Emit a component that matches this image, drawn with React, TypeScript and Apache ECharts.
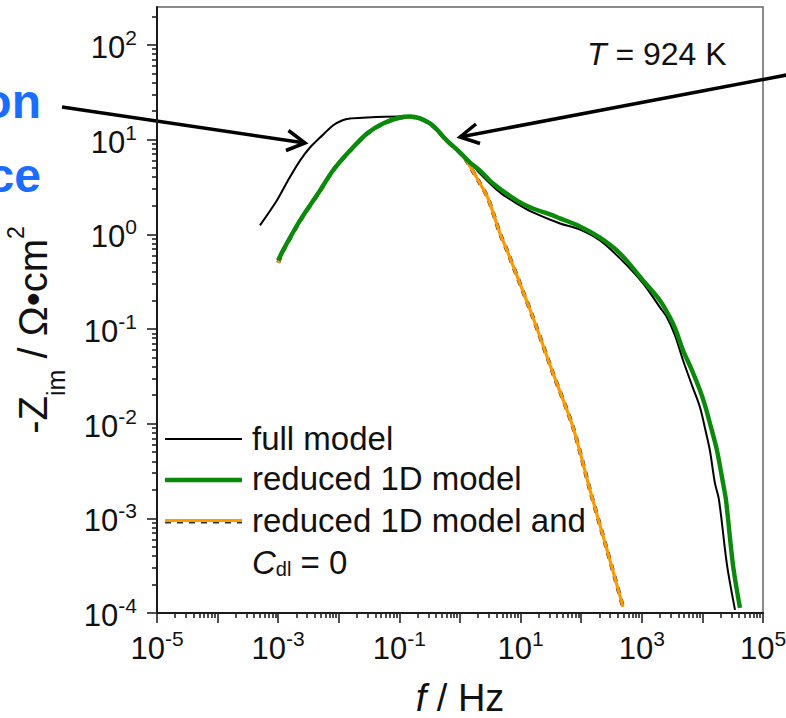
import React, { useEffect, useRef } from 'react';
import * as echarts from 'echarts';

const FONT = "'Liberation Sans', Arial, Helvetica, sans-serif";

// full model (f in Hz, -Zim in Ohm cm^2)
const fullModelFreq = [5.0e-4, 9.5e-4, 1.45e-3, 2.29e-3, 3.35e-3, 4.9e-3, 8.0e-3, 0.0113, 0.0153, 0.0292, 0.0578, 0.102, 0.15, 0.32, 0.609, 1.0, 1.46, 2.14, 4.57, 8.7, 16.0, 44.7, 95.5, 204, 437, 1047, 1995, 2606, 3530, 4790, 6730, 9120, 11040, 13300, 16100, 18800, 25500, 34500];
const fullModelZim = [1.24, 2.27, 3.7, 6.0, 8.24, 10.5, 14.1, 15.9, 16.7, 17.1, 17.4, 17.5, 17.5, 15.1, 10.0, 7.45, 5.86, 4.38, 2.76, 2.11, 1.7, 1.3, 1.12, 0.86, 0.556, 0.303, 0.169, 0.132, 0.0857, 0.0467, 0.0254, 0.0149, 8.93e-3, 5.2e-3, 2.35e-3, 1.56e-3, 3.2e-4, 1.08e-4];

// reduced 1D model
const reduced1DFreq = [0.001, 0.0012, 0.00229, 0.0049, 0.008, 0.0153, 0.0292, 0.0536, 0.102, 0.15, 0.32, 0.609, 1.0, 1.46, 2.14, 3.51, 8.7, 16.0, 30.5, 44.7, 95.5, 204, 437, 1047, 1995, 2920, 3660, 4790, 6730, 9120, 11040, 13300, 17400, 21900, 24500, 32000, 41700];
const reduced1DZim = [0.53, 0.675, 1.4, 2.9, 4.71, 7.65, 11.6, 14.8, 17.1, 17.5, 14.8, 9.76, 7.29, 5.72, 4.71, 3.44, 2.27, 1.87, 1.62, 1.47, 1.21, 0.92, 0.627, 0.326, 0.2, 0.132, 0.0966, 0.0594, 0.0366, 0.0225, 0.0156, 0.0101, 5.2e-3, 2.35e-3, 1.56e-3, 3.2e-4, 1.13e-4];

// reduced 1D model and Cdl = 0
const reducedCdl0Freq = [0.001, 0.0012, 0.00229, 0.0049, 0.008, 0.0153, 0.0292, 0.0536, 0.102, 0.15, 0.32, 0.609, 1.0, 1.21, 2.14, 2.9, 4.57, 5.97, 16.0, 34.3, 73.3, 140, 267, 490];
const reducedCdl0Zim = [0.5, 0.66, 1.38, 2.88, 4.7, 7.6, 11.5, 14.7, 17.0, 17.4, 14.7, 9.7, 7.25, 6.31, 3.44, 2.39, 1.02, 0.675, 0.132, 0.034, 9.16e-3, 1.98e-3, 4.63e-4, 1.16e-4];

// axes (decade exponents)
const xTickExponents = [-5, -4, -3, -2, -1, 0, 1, 2, 3, 4, 5];
const xLabelExponents = [-5, -3, -1, 1, 3, 5];
const yTickExponents = [-4, -3, -2, -1, 0, 1, 2];
const yLabelExponents = [-4, -3, -2, -1, 0, 1, 2];
const minorMultipliers = [2, 3, 4, 5, 6, 7, 8, 9];
const xRangeExp = [-5, 5];
const yRangeExp = [-4, 2.4];

function minorTicks(range: number[]): number[] {
  const out: number[] = [];
  for (let n = Math.floor(range[0]); n < range[1]; n++) {
    for (const k of minorMultipliers) {
      const v = n + Math.log10(k);
      if (v > range[0] && v < range[1]) out.push(v);
    }
  }
  return out;
}

const toLogPairs = (f: number[], z: number[]) => f.map((v, i) => [Math.log10(v), Math.log10(z[i])]);

export default function App() {
  const ref = useRef<HTMLDivElement>(null);
  useEffect(() => {
    const chart = echarts.init(ref.current!, null, { renderer: 'svg' });
    const tickLine = { color: '#222', width: 1.6 };
    const labelRich = {
      b: { fontSize: 31, fontFamily: FONT, color: '#111', lineHeight: 36, verticalAlign: 'bottom' },
      s: { fontSize: 21, fontFamily: FONT, color: '#111', lineHeight: 21, verticalAlign: 'top' },
    };
    const fmt = (v: number) => `{b|10}{s|${Math.round(v)}}`;
    const lineCommon = { showSymbol: false, smooth: 0.3 };
    const option: any = {
      animation: false,
      backgroundColor: '#fff',
      grid: {
        left: 157, right: 23, top: 7, bottom: 105, show: true, borderColor: '#666', borderWidth: 1.5,
        containLabel: false, outerBoundsMode: 'none',
      },
      xAxis: [
        {
          type: 'value', min: xRangeExp[0], max: xRangeExp[1], position: 'bottom',
          splitLine: { show: false },
          axisLine: { show: true, onZero: false, lineStyle: { color: '#1a1a1a', width: 2 } },
          axisTick: { show: true, inside: false, length: 10, customValues: xTickExponents, lineStyle: tickLine },
          axisLabel: { show: true, margin: 15, fontSize: 31, fontFamily: FONT, color: '#111', customValues: xLabelExponents, formatter: fmt, rich: labelRich },
          name: '{i|f}{n| / Hz}', nameLocation: 'middle', nameGap: 66,
          nameTextStyle: {
            fontSize: 38, fontFamily: FONT, color: '#111',
            rich: {
              i: { fontSize: 38, fontStyle: 'italic', fontFamily: FONT, color: '#111' },
              n: { fontSize: 38, fontFamily: FONT, color: '#111' },
            },
          },
        },
        {
          type: 'value', min: xRangeExp[0], max: xRangeExp[1], position: 'bottom',
          splitLine: { show: false }, axisLine: { show: false, onZero: false },
          axisTick: { show: true, inside: false, length: 5, customValues: minorTicks(xRangeExp), lineStyle: tickLine },
          axisLabel: { show: false },
        },
      ],
      yAxis: [
        {
          type: 'value', min: yRangeExp[0], max: yRangeExp[1], position: 'left',
          splitLine: { show: false },
          axisLine: { show: true, onZero: false, lineStyle: { color: '#1a1a1a', width: 2 } },
          axisTick: { show: true, inside: false, length: 10, customValues: yTickExponents, lineStyle: tickLine },
          axisLabel: { show: true, margin: 20, fontSize: 31, fontFamily: FONT, color: '#111', customValues: yLabelExponents, formatter: fmt, rich: labelRich },
          name: '{m|-Z}{sub|im}{m| / Ω•cm}{sup|2}', nameLocation: 'middle', nameGap: 89,
          nameTextStyle: {
            fontSize: 40, fontFamily: FONT, color: '#111', padding: [0, 40, 0, 0],
            rich: {
              m: { fontSize: 40, fontFamily: FONT, color: '#111', lineHeight: 70 },
              sub: { fontSize: 25, fontFamily: FONT, color: '#111', lineHeight: 25, verticalAlign: 'bottom' },
              sup: { fontSize: 23, fontFamily: FONT, color: '#111', lineHeight: 23, padding: [6, 0, 0, 0], verticalAlign: 'top' },
            },
          },
        },
        {
          type: 'value', min: yRangeExp[0], max: yRangeExp[1], position: 'left',
          splitLine: { show: false }, axisLine: { show: false, onZero: false },
          axisTick: { show: true, inside: false, length: 5, customValues: minorTicks(yRangeExp), lineStyle: tickLine },
          axisLabel: { show: false },
        },
      ],
      series: [
        {
          type: 'line', name: 'full model', data: toLogPairs(fullModelFreq, fullModelZim),
          ...lineCommon, z: 2, lineStyle: { color: '#000', width: 2 },
        },
        {
          type: 'line', name: 'reduced 1D model and Cdl = 0 (dash)', data: toLogPairs(reducedCdl0Freq, reducedCdl0Zim),
          ...lineCommon, z: 3, lineStyle: { color: '#333', width: 4, type: [6, 6] },
        },
        {
          type: 'line', name: 'reduced 1D model and Cdl = 0', data: toLogPairs(reducedCdl0Freq, reducedCdl0Zim),
          ...lineCommon, z: 4, lineStyle: { color: '#ff9900', width: 3.2 },
        },
        {
          type: 'line', name: 'reduced 1D model', data: toLogPairs(reduced1DFreq, reduced1DZim),
          ...lineCommon, z: 6, lineStyle: { color: '#0a8a0a', width: 4.4 },
        },
      ],
      graphic: [
        // blue annotation fragments (clipped at the left edge, as in the source figure)
        { type: 'text', x: 41, y: 101, style: { text: 'on', font: `bold 48px ${FONT}`, fill: '#1a6dff', align: 'right', textAlign: 'right', verticalAlign: 'middle', textVerticalAlign: 'middle' } },
        { type: 'text', x: 41, y: 175, style: { text: 'ce', font: `bold 48px ${FONT}`, fill: '#1a6dff', align: 'right', textAlign: 'right', verticalAlign: 'middle', textVerticalAlign: 'middle' } },
        // arrows
        { type: 'line', shape: { x1: 62, y1: 107, x2: 305, y2: 143 }, style: { stroke: '#000', lineWidth: 3.5 } },
        { type: 'polyline', shape: { points: [[288.5, 130.5], [305, 143], [286, 150.5]] }, style: { stroke: '#000', lineWidth: 3.5, fill: null } },
        { type: 'line', shape: { x1: 792, y1: 74, x2: 460, y2: 137 }, style: { stroke: '#000', lineWidth: 3.5 } },
        { type: 'polyline', shape: { points: [[476, 124], [460, 137], [480, 143.5]] }, style: { stroke: '#000', lineWidth: 3.5, fill: null } },
        // temperature label
        {
          type: 'text', x: 587, y: 54,
          style: {
            text: '{i|T}{n| = 924 K}', align: 'left', textAlign: 'left', verticalAlign: 'middle', textVerticalAlign: 'middle',
            rich: {
              i: { fontSize: 32, fontStyle: 'italic', fontFamily: FONT, fill: '#111', color: '#111' },
              n: { fontSize: 32, fontFamily: FONT, fill: '#111', color: '#111' },
            },
          },
        },
        // legend
        { type: 'line', shape: { x1: 165, y1: 439, x2: 242, y2: 439 }, style: { stroke: '#000', lineWidth: 1.8 } },
        { type: 'line', shape: { x1: 165, y1: 480, x2: 242, y2: 480 }, style: { stroke: '#0a8a0a', lineWidth: 4.4 } },
        { type: 'line', shape: { x1: 165, y1: 521.5, x2: 242, y2: 521.5 }, style: { stroke: '#333', lineWidth: 4, lineDash: [6, 6] } },
        { type: 'line', shape: { x1: 165, y1: 520.5, x2: 242, y2: 520.5 }, style: { stroke: '#ff9900', lineWidth: 3.2 } },
        { type: 'text', x: 252, y: 438.6, style: { text: 'full model', font: `33px ${FONT}`, fill: '#111', align: 'left', textAlign: 'left', verticalAlign: 'middle', textVerticalAlign: 'middle' } },
        { type: 'text', x: 252, y: 478.6, style: { text: 'reduced 1D model', font: `33px ${FONT}`, fill: '#111', align: 'left', textAlign: 'left', verticalAlign: 'middle', textVerticalAlign: 'middle' } },
        { type: 'text', x: 252, y: 520.6, style: { text: 'reduced 1D model and', font: `33px ${FONT}`, fill: '#111', align: 'left', textAlign: 'left', verticalAlign: 'middle', textVerticalAlign: 'middle' } },
        {
          type: 'text', x: 252, y: 562.5,
          style: {
            text: '{i|C}{sub|dl}{n| = 0}', align: 'left', textAlign: 'left', verticalAlign: 'middle', textVerticalAlign: 'middle',
            rich: {
              i: { fontSize: 33, fontStyle: 'italic', fontFamily: FONT, fill: '#111', color: '#111' },
              sub: { fontSize: 20, fontFamily: FONT, fill: '#111', color: '#111', lineHeight: 20, padding: [24, 0, 0, 0], verticalAlign: 'bottom' },
              n: { fontSize: 33, fontFamily: FONT, fill: '#111', color: '#111' },
            },
          },
        },
      ],
    };
    chart.setOption(option);
    return () => chart.dispose();
  }, []);
  return <div ref={ref} style={{ position: 'fixed', left: 0, top: 0, width: 786, height: 718, background: '#fff' }} />;
}
